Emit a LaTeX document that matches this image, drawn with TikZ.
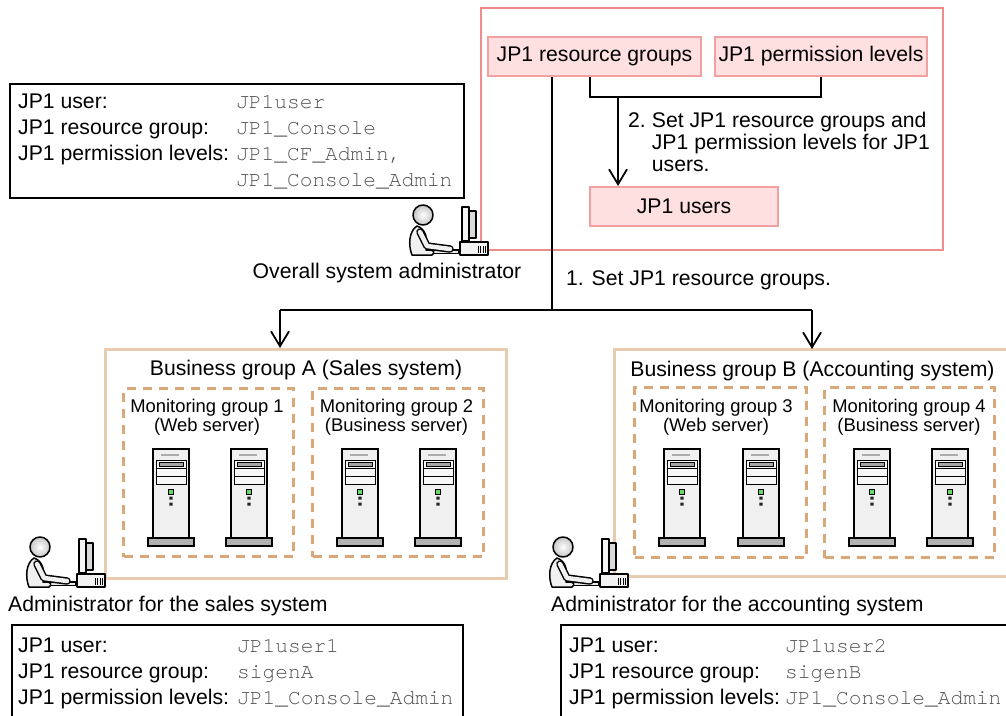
\documentclass[tikz,border=0pt]{standalone}
\usepackage{fontspec}
\setmainfont{Liberation Sans}
\newfontfamily\valfont{TeX Gyre Cursor}
\usetikzlibrary{arrows.meta,calc}

\definecolor{pinkfill}{RGB}{255,224,224}
\definecolor{pinkline}{RGB}{242,160,160}
\definecolor{framepink}{RGB}{240,140,140}
\definecolor{tanline}{RGB}{232,204,176}
\definecolor{tandash}{RGB}{217,168,120}
\definecolor{valgray}{RGB}{80,80,80}
\definecolor{ledgreen}{RGB}{100,220,100}

\newcommand\fsmain{\fontsize{21.2}{26}\selectfont}
\newcommand\fsnote{\fontsize{21.2}{21.7}\selectfont}
\newcommand\fsgroup{\fontsize{18.4}{18.5}\selectfont}
\newcommand\val[1]{{\valfont\color{valgray}#1}}

\tikzset{
  pinkbox/.style={draw=pinkline, fill=pinkfill, line width=2pt, minimum height=39pt,
    inner sep=0pt, font=\fsmain},
  infoframe/.style={draw=black, line width=1.8pt},
  conn/.style={draw=black, line width=1.8pt},
  arr/.style={conn, -{Straight Barb[length=15pt,width=18pt,line width=1.8pt]}},
  bizbox/.style={draw=tanline, line width=3pt},
  monbox/.style={draw=tandash, line width=3pt, dash pattern=on 9pt off 7pt},
  lbl/.style={inner sep=0pt, font=\fsmain},
  grp/.style={inner sep=0pt, anchor=base, font=\fsgroup, align=center},
  iconline/.style={draw=black, line width=1.5pt, line join=round},
  server/.pic={
    \draw[line width=1.3pt, fill=gray!12] (-18,0) rectangle (18,89);
    \draw[gray!65, line width=1.6pt] (-10,6) -- (8,6);
    \draw[line width=1pt, fill=gray!6] (-15,11) rectangle (15,35);
    \draw[line width=1pt] (-15,19) -- (15,19) (-15,27) -- (15,27);
    \draw[line width=0.8pt, fill=gray!70] (-12,13) rectangle (12,17);
    \draw[line width=0.8pt, fill=ledgreen] (-2.5,40) rectangle (2.5,45);
    \fill[black!85] (-1.6,47.5) rectangle (1.6,50.5) (-1.6,53.5) rectangle (1.6,56.5);
    \draw[line width=1.3pt, fill=gray!60] (-23,89) rectangle (23,97);
  },
  admin/.pic={
    % desk unit with vents
    \draw[iconline, fill=gray!10] (37,27) rectangle (65,40);
    \foreach \vx in {55,57.5,60,62.5} \draw[line width=0.9pt] (\vx,31) -- (\vx,38);
    % monitor seen from the side
    \draw[iconline, fill=gray!30] (45,-4) rectangle (53,23);
    \draw[iconline, fill=gray!8] (39,-8) rectangle (46,26);
    % keyboard
    \draw[iconline, fill=gray!15] (10,35) rectangle (36,38.5);
    % torso
    \draw[iconline, fill=gray!12] (-6,11) .. controls (-14,16) and (-15,30) .. (-11,40)
      -- (9,40) .. controls (12,38) and (11,35) .. (7,35) -- (3,35)
      .. controls (5,24) and (3,14) .. (-6,11) -- cycle;
    % arm
    \draw[line width=7.5pt, line cap=round, line join=round] (-3,17) -- (4,31) -- (27,34);
    \draw[line width=4.5pt, gray!12, line cap=round, line join=round] (-3,17) -- (4,31) -- (27,34);
    % head
    \shade[inner color=white, outer color=gray!45] (0,0) circle (10);
    \draw[iconline] (0,0) circle (10);
  }
}

\begin{document}
\begin{tikzpicture}[x=1pt,y=-1pt]
\useasboundingbox (0,0) rectangle (1006,715);
\clip (0,0) rectangle (1006,715);

% ---------- settings area ----------
\node[draw=framepink, line width=2pt, anchor=north west, minimum width=462pt,
      minimum height=242pt, inner sep=0pt] (setarea) at (480,7) {};
\node[pinkbox, minimum width=213pt] (rg) at (594.5,56.5) {JP1 resource groups};
\node[pinkbox, minimum width=212pt] (pl) at (821,56.5) {JP1 permission levels};
\node[pinkbox, minimum width=188pt] (users) at (684,206.5) {JP1 users};

\coordinate (jL) at (590,97);
\coordinate (jR) at (821,97);
\coordinate (jA) at (618,97);
\draw[conn] (rg.south -| jL) -- (jL) -- (jR) -- (pl.south -| jR);
\draw[arr] (jA) -- (users.north -| jA);

\node[inner sep=0pt, anchor=base west, font=\fsnote] (note2) at (628,127.5)
  {\begin{tabular}[t]{@{}l@{\hspace{6pt}}l@{}}
   2. & Set JP1 resource groups and\\
      & JP1 permission levels for JP1\\
      & users.
   \end{tabular}};

% ---------- overall administrator ----------
\node[infoframe, anchor=north west, minimum width=454pt, minimum height=114pt,
      inner sep=0pt] (ovbox) at (9,83) {};
\node[inner sep=0pt, anchor=base west, font=\fsmain] (ovtext) at (18,108)
  {\begin{tabular}[t]{@{}p{218pt}@{}l@{}}
   JP1 user: & \val{JP1user}\\
   JP1 resource group: & \val{JP1\_Console}\\
   JP1 permission levels: & \val{JP1\_CF\_Admin,}\\
   & \val{JP1\_Console\_Admin}
   \end{tabular}};

\pic at (423,215) {admin};
\node[lbl, anchor=base] (ovlbl) at (387,278) {Overall system administrator};

% ---------- distribution of resource groups ----------
\coordinate (t) at (552,310);
\coordinate (tA) at (280,310);
\coordinate (tB) at (812,310);
\draw[conn] (rg.south -| t) -- (t);
\draw[conn] (tA) -- (tB);
\node[lbl, anchor=base west] (note1) at (566,285) {1. Set JP1 resource groups.};

% ---------- business group A ----------
\node[bizbox, anchor=north west, minimum width=401pt, minimum height=229pt,
      inner sep=0pt] (bizA) at (104,348) {};
\node[lbl, anchor=base] (bizAt) at (306,375) {Business group A (Sales system)};
\draw[arr] (tA) -- (bizA.north -| tA);

\node[monbox, anchor=north west, minimum width=170pt, minimum height=168pt,
      inner sep=0pt] (mg1) at (122,387) {};
\node[monbox, anchor=north west, minimum width=171pt, minimum height=168pt,
      inner sep=0pt] (mg2) at (311,387) {};
\node[grp] (mg1t) at (207,431) {Monitoring group 1\\(Web server)};
\node[grp] (mg2t) at (396.5,431) {Monitoring group 2\\(Business server)};
\foreach \sx in {171,249,360,438} \pic at (\sx,449) {server};

% ---------- business group B ----------
\draw[bizbox] (1012,349) -| (614,576) -- (1012,576);
\coordinate (bizBtop) at (812,349);
\node[lbl, anchor=base] (bizBt) at (812.5,376.5) {Business group B (Accounting system)};
\draw[arr] (tB) -- (bizBtop);

\node[monbox, anchor=north west, minimum width=172pt, minimum height=170pt,
      inner sep=0pt] (mg3) at (633,386) {};
\node[monbox, anchor=north west, minimum width=170pt, minimum height=170pt,
      inner sep=0pt] (mg4) at (823,386) {};
\node[grp] (mg3t) at (716,431) {Monitoring group 3\\(Web server)};
\node[grp] (mg4t) at (909,431) {Monitoring group 4\\(Business server)};
\foreach \sx in {682,761,872,950} \pic at (\sx,449) {server};

% ---------- sales administrator ----------
\pic at (40,547) {admin};
\node[lbl, anchor=base west] (salesl) at (8,611) {Administrator for the sales system};
\draw[infoframe] (12,720) |- (463,625) -- (463,720);
\node[inner sep=0pt, anchor=base west, font=\fsmain] (salestext) at (18,652)
  {\begin{tabular}[t]{@{}p{219pt}@{}l@{}}
   JP1 user: & \val{JP1user1}\\
   JP1 resource group: & \val{sigenA}\\
   JP1 permission levels: & \val{JP1\_Console\_Admin}
   \end{tabular}};

% ---------- accounting administrator ----------
\pic at (563,547) {admin};
\node[lbl, anchor=base west] (accl) at (551,611) {Administrator for the accounting system};
\draw[infoframe] (1012,625) -| (561,720);
\node[inner sep=0pt, anchor=base west, font=\fsmain] (acctext) at (569,652)
  {\begin{tabular}[t]{@{}p{216pt}@{}l@{}}
   JP1 user: & \val{JP1user2}\\
   JP1 resource group: & \val{sigenB}\\
   JP1 permission levels: & \val{JP1\_Console\_Admin}
   \end{tabular}};
\end{tikzpicture}
\end{document}
